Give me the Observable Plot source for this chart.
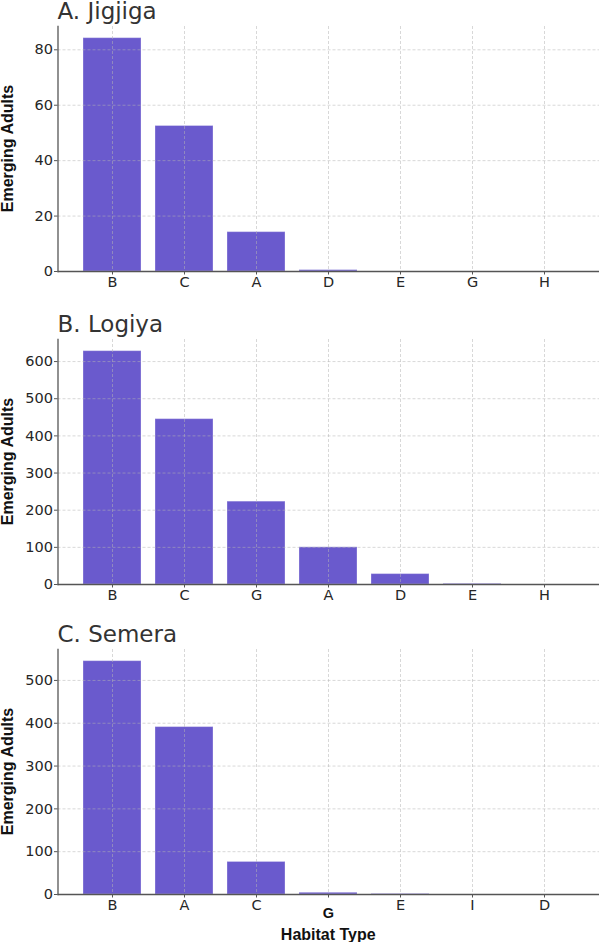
<!DOCTYPE html>
<html>
<head>
<meta charset="utf-8">
<script src="https://cdn.jsdelivr.net/npm/d3@7"></script>
<script src="https://cdn.jsdelivr.net/npm/@observablehq/plot@0.6"></script>
<style>
  body { margin: 0; background: #fff; }
  #chart { position: relative; width: 599px; height: 942px; overflow: hidden; }
  #chart svg { position: absolute; left: 0; }
</style>
</head>
<body>
<div id="chart"></div>
<script>
// Emerging adults per habitat type, one panel per site (sorted by count)
const sites = ["A. Jigjiga", "B. Logiya", "C. Semera"];

const habitatsJigjiga = ["B", "C", "A", "D", "E", "G", "H"];
const adultsJigjiga   = [84.2, 52.5, 14.2, 0.5, 0, 0, 0];
const ticksJigjiga    = [0, 20, 40, 60, 80];

const habitatsLogiya = ["B", "C", "G", "A", "D", "E", "H"];
const adultsLogiya   = [628, 445, 223, 100, 28, 1.5, 0];
const ticksLogiya    = [0, 100, 200, 300, 400, 500, 600];

const habitatsSemera = ["B", "A", "C", "G", "E", "I", "D"];
const adultsSemera   = [545, 391, 76, 4, 1, 0, 0];
const ticksSemera    = [0, 100, 200, 300, 400, 500];

const yLabel = "Emerging Adults";
const xLabel = "Habitat Type";

// panel layout (page offsets and margins)
const layout = [
  {top: 0,   marginTop: 26, marginBottom: 29},
  {top: 300, marginTop: 39, marginBottom: 29},
  {top: 613, marginTop: 36, marginBottom: 48}
];

const series = [
  {cats: habitatsJigjiga, vals: adultsJigjiga, ticks: ticksJigjiga},
  {cats: habitatsLogiya,  vals: adultsLogiya,  ticks: ticksLogiya},
  {cats: habitatsSemera,  vals: adultsSemera,  ticks: ticksSemera}
];

const W = 599, plotH = 245, mL = 57.5;
const spine = "#555", ink = "#262626";
const tickFont = 14.5;
const gridStyle = {stroke: "#b4b4b4", strokeOpacity: 0.65, strokeWidth: 0.8, strokeDasharray: "3,2"};

const root = document.getElementById("chart");

series.forEach((s, i) => {
  const L = layout[i];
  const data = s.cats.map((c, k) => ({habitat: c, adults: s.vals[k]}));
  const height = L.marginTop + plotH + L.marginBottom;

  const svg = Plot.plot({
    width: W,
    height,
    marginLeft: mL,
    marginRight: 0,
    marginTop: L.marginTop,
    marginBottom: L.marginBottom,
    style: {fontFamily: "DejaVu Sans", fontSize: tickFont + "px", color: ink, background: "transparent", overflow: "visible"},
    x: {type: "band", domain: s.cats, paddingInner: 0.2, paddingOuter: 0.34, align: 0.5},
    y: {domain: [0, d3.max(s.vals) * 1.05]},
    marks: [
      Plot.barY(data, {x: "habitat", y: "adults", fill: "#6a5acd", stroke: "#ffffff", strokeOpacity: 0.3, strokeWidth: 1}),
      Plot.gridX(s.cats, gridStyle),
      Plot.gridY(s.ticks, gridStyle),
      Plot.axisX({tickSize: 3.5, tickPadding: 2, stroke: spine, fill: ink, fontSize: tickFont, label: null}),
      Plot.axisY({ticks: s.ticks, tickSize: 3.5, tickPadding: 1.5, stroke: spine, fill: ink, fontSize: tickFont, label: null}),
      Plot.ruleY([0], {stroke: spine, strokeWidth: 1.3}),
      Plot.frame({anchor: "left", stroke: spine, strokeWidth: 1.3})
    ]
  });
  svg.style.top = L.top + "px";
  root.appendChild(svg);

  const g = d3.select(svg);

  // panel title
  g.append("text")
    .attr("x", mL)
    .attr("y", L.marginTop - 7)
    .attr("text-anchor", "start")
    .attr("font-family", "DejaVu Sans")
    .attr("font-size", 23)
    .attr("fill", "#333")
    .text(sites[i]);

  // y-axis label
  g.append("text")
    .attr("transform", `translate(13,${L.marginTop + plotH / 2}) rotate(-90)`)
    .attr("text-anchor", "middle")
    .attr("font-family", "Liberation Sans, Arial, sans-serif")
    .attr("font-weight", "bold")
    .attr("font-size", 16)
    .attr("fill", "#111")
    .text(yLabel);

  if (i === 2) {
    // x-axis label under the last panel
    g.append("text")
      .attr("x", (mL + W) / 2)
      .attr("y", L.marginTop + plotH + 45.5)
      .attr("text-anchor", "middle")
      .attr("font-family", "Liberation Sans, Arial, sans-serif")
      .attr("font-weight", "bold")
      .attr("font-size", 16)
      .attr("fill", "#111")
      .text(xLabel);

    // the G tick label of this panel is set in bold, a little lower
    g.selectAll("text").filter(function () { return this.textContent === "G"; })
      .each(function () {
        const t = d3.select(this);
        const tr = t.attr("transform") || "";
        t.attr("transform", (tr + " translate(0,8)").trim())
          .attr("font-family", "Liberation Sans, Arial, sans-serif")
          .attr("font-weight", "bold")
          .attr("font-size", 14.5)
          .attr("fill", "#111");
      });
  }
});
</script>
</body>
</html>
